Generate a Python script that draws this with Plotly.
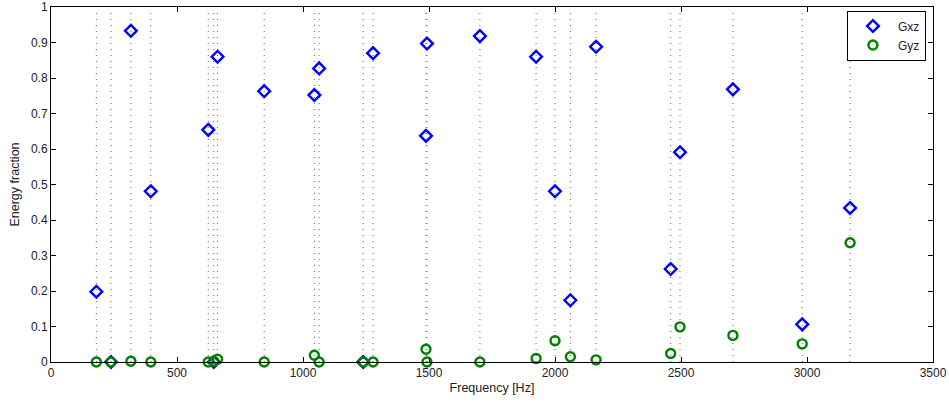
import plotly.graph_objects as go

freqs = [180, 238, 317, 396, 624, 646, 661, 846, 1045, 1064, 1239, 1278, 1488, 1492,
         1702, 1925, 2000, 2061, 2163, 2459, 2496, 2706, 2981, 3171]
gxz = [0.198, 0.0, 0.933, 0.481, 0.654, 0.0, 0.86, 0.763, 0.752, 0.827, 0.0, 0.87, 0.637, 0.897,
       0.918, 0.86, 0.481, 0.174, 0.888, 0.262, 0.591, 0.768, 0.106, 0.434]
gyz = [0.0, 0.0, 0.002, 0.0, 0.0, 0.002, 0.008, 0.0, 0.019, 0.0, 0.0, 0.0, 0.036, 0.0,
       0.0, 0.01, 0.06, 0.015, 0.006, 0.024, 0.099, 0.075, 0.051, 0.336]
xticks = [0, 500, 1000, 1500, 2000, 2500, 3000, 3500]
yticks = [0, 0.1, 0.2, 0.3, 0.4, 0.5, 0.6, 0.7, 0.8, 0.9, 1]
ytick_labels = ["0", "0.1", "0.2", "0.3", "0.4", "0.5", "0.6", "0.7", "0.8", "0.9", "1"]

FONT = "Liberation Sans, Arial, Helvetica, sans-serif"

fig = go.Figure()

# vertical dotted mode lines
for f in freqs:
    fig.add_shape(type="line", xref="x", yref="y", x0=f, x1=f, y0=0, y1=0.99,
                  line=dict(color="#666666", width=1, dash="1px,5px"), layer="below")

fig.add_trace(go.Scatter(x=freqs, y=gxz, mode="markers", name="Gxz",
                         marker=dict(symbol="diamond-open", size=9, color="#0000ff",
                                     line=dict(width=2.4, color="#0000ff")),
                         cliponaxis=False))
fig.add_trace(go.Scatter(x=freqs, y=gyz, mode="markers", name="Gyz",
                         marker=dict(symbol="circle-open", size=9, color="#008000",
                                     line=dict(width=2.4, color="#008000")),
                         cliponaxis=False))

axis_common = dict(showline=True, linecolor="black", linewidth=1, mirror="allticks",
                   ticks="inside", ticklen=5, tickcolor="black", showgrid=False,
                   zeroline=False, automargin=False, ticklabeloverflow="allow",
                   tickfont=dict(family=FONT, size=12, color="#222222"))

fig.update_xaxes(range=[0, 3500], tickvals=xticks, ticktext=[str(v) for v in xticks],
                 title=dict(text="Frequency [Hz]", font=dict(family=FONT, size=12.5, color="#222222"),
                            standoff=3),
                 **axis_common)
fig.update_yaxes(range=[0, 1], tickvals=yticks, ticktext=ytick_labels,
                 title=dict(text="Energy fraction", font=dict(family=FONT, size=12.5, color="#222222"),
                            standoff=8),
                 **axis_common)

fig.update_layout(
    width=949, height=405,
    margin=dict(l=51, r=16, t=7, b=43),
    plot_bgcolor="white", paper_bgcolor="white",
    font=dict(family=FONT, size=12, color="#222222"),
    showlegend=True,
    legend=dict(x=0.992, y=0.99, xanchor="right", yanchor="top",
                bordercolor="black", borderwidth=1, bgcolor="white",
                font=dict(family=FONT, size=12, color="#222222"),
                itemwidth=40, tracegroupgap=0),
)

fig.write_html("out.html", config={"displayModeBar": False},
               post_script="document.body.style.margin='0px';")
